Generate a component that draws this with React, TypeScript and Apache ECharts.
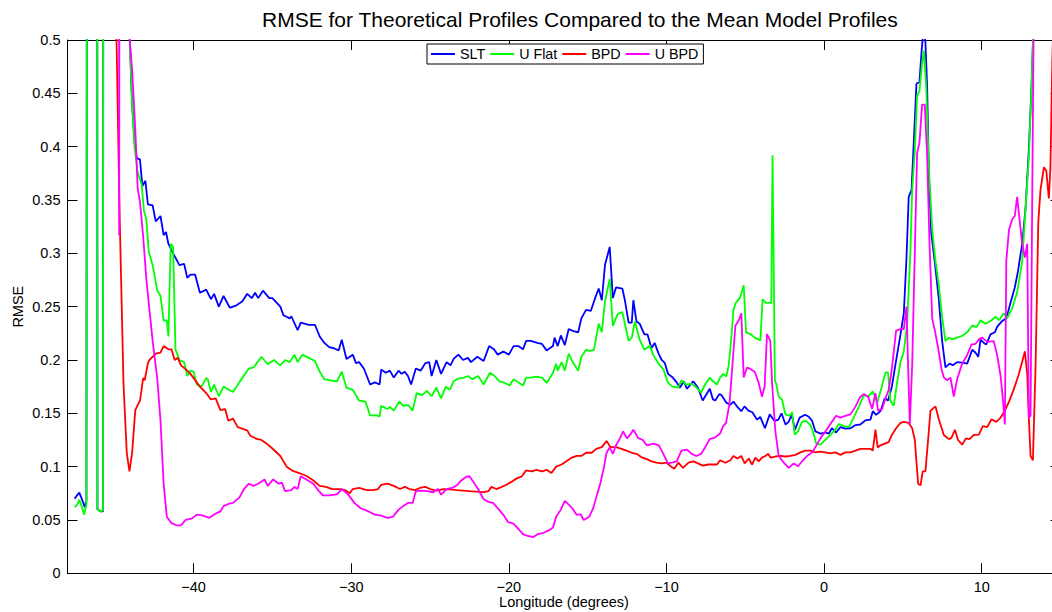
import React, { useEffect, useRef } from 'react';
import * as echarts from 'echarts';

const TITLE = 'RMSE for Theoretical Profiles Compared to the Mean Model Profiles';
const X_NAME = 'Longitude (degrees)';
const Y_NAME = 'RMSE';
const SERIES_NAMES = ['SLT', 'U Flat', 'BPD', 'U BPD'];
const SERIES_COLORS = ['#0000ff', '#00ff00', '#ff0000', '#ff00ff'];
const X_TICKS = [-40, -30, -20, -10, 0, 10];
const X_MIN = -48;
const X_MAX = 15;
const Y_MIN = 0;
const Y_MAX = 0.5;
const Y_STEP = 0.05;

// [longitude, RMSE]; values above 0.5 run off the top of the axes
const slt: [number, number][] = [
  [-47.55, 0.07], [-47.4, 0.073], [-47.25, 0.0756], [-47.1, 0.07], [-46.9, 0.062], [-46.8, 0.068],
  [-46.7, 2.0], [-46.14, 2.0], [-46.1, 0.06], [-45.9, 0.058], [-45.75, 0.058], [-45.68, 2.0],
  [-44.3, 2.0], [-44.1, 0.52], [-43.9, 0.44], [-43.75, 0.405], [-43.6, 0.389], [-43.4, 0.388],
  [-43.25, 0.363], [-43.06, 0.368], [-42.9, 0.346], [-42.6, 0.345], [-42.4, 0.33], [-42.1, 0.335],
  [-41.9, 0.317], [-41.75, 0.32], [-41.6, 0.309], [-41.3, 0.3], [-40.9, 0.289], [-40.6, 0.29],
  [-40.4, 0.277], [-40.2, 0.28], [-39.9, 0.28], [-39.6, 0.263], [-39.2, 0.266], [-38.9, 0.257],
  [-38.7, 0.262], [-38.4, 0.25], [-38.1, 0.26], [-37.7, 0.249], [-37.3, 0.251], [-36.9, 0.255],
  [-36.6, 0.262], [-36.3, 0.258], [-36.1, 0.263], [-35.9, 0.258], [-35.6, 0.265], [-35.2, 0.258],
  [-35.0, 0.258], [-34.5, 0.25], [-34.3, 0.242], [-33.9, 0.239], [-33.8, 0.241], [-33.4, 0.228],
  [-33.2, 0.235], [-32.7, 0.233], [-32.3, 0.233], [-32.0, 0.222], [-31.7, 0.216], [-31.4, 0.212],
  [-31.1, 0.211], [-30.8, 0.209], [-30.6, 0.219], [-30.3, 0.201], [-29.9, 0.205], [-29.7, 0.197],
  [-29.5, 0.198], [-29.2, 0.192], [-28.8, 0.177], [-28.5, 0.179], [-28.2, 0.177], [-28.1, 0.191],
  [-27.8, 0.188], [-27.55, 0.19], [-27.3, 0.1835], [-27.0, 0.19], [-26.8, 0.187], [-26.6, 0.189],
  [-26.4, 0.185], [-26.2, 0.177], [-25.9, 0.192], [-25.6, 0.19], [-25.3, 0.197], [-25.05, 0.198],
  [-24.9, 0.185], [-24.6, 0.2], [-24.3, 0.187], [-23.95, 0.198], [-23.7, 0.195], [-23.5, 0.201],
  [-23.2, 0.205], [-22.9, 0.2], [-22.6, 0.202], [-22.4, 0.198], [-22.0, 0.203], [-21.6, 0.199],
  [-21.25, 0.213], [-20.95, 0.21], [-20.7, 0.205], [-20.35, 0.208], [-20.0, 0.205], [-19.7, 0.213],
  [-19.4, 0.213], [-19.1, 0.21], [-18.9, 0.218], [-18.6, 0.218], [-18.2, 0.216], [-17.9, 0.215],
  [-17.6, 0.209], [-17.2, 0.213], [-17.1, 0.221], [-16.9, 0.213], [-16.7, 0.223], [-16.45, 0.214],
  [-16.2, 0.229], [-15.9, 0.227], [-15.6, 0.226], [-15.4, 0.239], [-15.1, 0.247], [-14.8, 0.246],
  [-14.55, 0.257], [-14.3, 0.267], [-14.1, 0.256], [-13.9, 0.289], [-13.6, 0.306], [-13.4, 0.258],
  [-13.2, 0.268], [-12.8, 0.267], [-12.65, 0.257], [-12.4, 0.235], [-12.2, 0.235], [-12.1, 0.256],
  [-11.9, 0.236], [-11.7, 0.234], [-11.4, 0.224], [-11.2, 0.224], [-10.95, 0.211], [-10.75, 0.216],
  [-10.5, 0.206], [-10.3, 0.2], [-10.1, 0.197], [-9.9, 0.187], [-9.6, 0.1835], [-9.35, 0.179],
  [-9.15, 0.174], [-8.9, 0.18], [-8.7, 0.173], [-8.3, 0.18], [-8.0, 0.174], [-7.7, 0.162],
  [-7.5, 0.167], [-7.25, 0.173], [-7.05, 0.163], [-6.9, 0.162], [-6.65, 0.168], [-6.5, 0.167],
  [-6.2, 0.16], [-5.95, 0.158], [-5.75, 0.161], [-5.5, 0.156], [-5.25, 0.152], [-5.05, 0.1565],
  [-4.8, 0.1525], [-4.55, 0.151], [-4.25, 0.144], [-4.05, 0.1467], [-3.75, 0.136], [-3.45, 0.149],
  [-3.15, 0.143], [-2.9, 0.144], [-2.7, 0.15], [-2.45, 0.1395], [-2.25, 0.142], [-2.05, 0.1486],
  [-1.85, 0.1346], [-1.55, 0.146], [-1.2, 0.1486], [-0.97, 0.1467], [-0.76, 0.143], [-0.55, 0.133],
  [-0.23, 0.131], [0.08, 0.132], [0.3, 0.131], [0.5, 0.136], [0.76, 0.132], [1.04, 0.137],
  [1.35, 0.1356], [1.67, 0.136], [2.0, 0.139], [2.3, 0.1395], [2.62, 0.1434], [2.94, 0.144],
  [3.09, 0.152], [3.3, 0.1486], [3.58, 0.152], [3.85, 0.164], [4.06, 0.162], [4.3, 0.175],
  [4.63, 0.2047], [4.85, 0.224], [5.06, 0.244], [5.23, 0.296], [5.37, 0.353], [5.55, 0.3595],
  [5.7, 0.4068], [5.86, 0.459], [6.05, 0.4606], [6.18, 0.488], [6.3, 0.51], [6.43, 0.498],
  [6.54, 0.456], [6.65, 0.374], [6.8, 0.319], [7.03, 0.291], [7.28, 0.257], [7.49, 0.218],
  [7.7, 0.193], [7.96, 0.1966], [8.17, 0.195], [8.44, 0.198], [8.76, 0.1975], [9.08, 0.1966],
  [9.4, 0.2096], [9.6, 0.207], [9.78, 0.203], [9.93, 0.219], [10.14, 0.216], [10.29, 0.2145],
  [10.56, 0.224], [10.84, 0.226], [10.98, 0.231], [11.3, 0.2366], [11.56, 0.239], [11.83, 0.2536],
  [12.1, 0.268], [12.3, 0.283], [12.57, 0.309], [12.78, 0.3416], [12.99, 0.397], [13.16, 0.456],
  [13.3, 0.52], [14.0, 1.0],
];

const uFlat: [number, number][] = [
  [-47.55, 0.062], [-47.4, 0.064], [-47.25, 0.069], [-47.1, 0.063], [-46.95, 0.055], [-46.8, 0.064],
  [-46.7, 2.0], [-46.14, 2.0], [-46.1, 0.06], [-45.9, 0.058], [-45.75, 0.059], [-45.68, 2.0],
  [-44.3, 2.0], [-44.1, 0.52], [-43.9, 0.44], [-43.75, 0.4], [-43.55, 0.376], [-43.3, 0.365],
  [-43.15, 0.34], [-43.0, 0.332], [-42.85, 0.302], [-42.6, 0.289], [-42.3, 0.265], [-42.1, 0.26],
  [-41.9, 0.237], [-41.7, 0.237], [-41.6, 0.222], [-41.45, 0.309], [-41.3, 0.306], [-41.15, 0.21],
  [-40.9, 0.2], [-40.6, 0.198], [-40.4, 0.185], [-40.2, 0.19], [-40.0, 0.189], [-39.8, 0.177],
  [-39.5, 0.175], [-39.2, 0.183], [-39.1, 0.182], [-38.9, 0.17], [-38.7, 0.177], [-38.4, 0.166],
  [-38.1, 0.175], [-37.5, 0.17], [-37.1, 0.179], [-36.5, 0.192], [-36.2, 0.193], [-36.0, 0.197],
  [-35.7, 0.203], [-35.3, 0.196], [-34.9, 0.2], [-34.5, 0.195], [-34.2, 0.2], [-33.9, 0.198],
  [-33.6, 0.205], [-33.4, 0.198], [-33.1, 0.205], [-32.7, 0.202], [-32.3, 0.199], [-32.0, 0.189],
  [-31.7, 0.182], [-31.4, 0.181], [-30.9, 0.18], [-30.6, 0.189], [-30.3, 0.174], [-29.9, 0.172],
  [-29.5, 0.162], [-29.1, 0.161], [-28.8, 0.148], [-28.4, 0.148], [-28.2, 0.147], [-28.1, 0.157],
  [-27.7, 0.154], [-27.55, 0.156], [-27.3, 0.1525], [-26.95, 0.161], [-26.7, 0.157], [-26.4, 0.158],
  [-26.1, 0.1525], [-25.85, 0.169], [-25.5, 0.167], [-25.2, 0.171], [-24.9, 0.166], [-24.6, 0.174],
  [-24.3, 0.164], [-24.0, 0.175], [-23.75, 0.172], [-23.5, 0.18], [-23.2, 0.1825], [-22.85, 0.1835],
  [-22.6, 0.185], [-22.3, 0.182], [-21.95, 0.185], [-21.6, 0.177], [-21.2, 0.188], [-20.9, 0.185],
  [-20.6, 0.18], [-20.25, 0.1785], [-19.95, 0.176], [-19.7, 0.182], [-19.4, 0.179], [-19.1, 0.176],
  [-18.9, 0.1835], [-18.6, 0.1835], [-18.25, 0.1845], [-17.9, 0.1835], [-17.6, 0.1785], [-17.2, 0.188],
  [-17.0, 0.1965], [-16.9, 0.19], [-16.65, 0.198], [-16.45, 0.19], [-16.2, 0.206], [-15.95, 0.198],
  [-15.6, 0.19], [-15.4, 0.203], [-15.1, 0.2095], [-14.85, 0.2085], [-14.6, 0.2095], [-14.3, 0.234],
  [-14.1, 0.226], [-13.9, 0.255], [-13.6, 0.276], [-13.4, 0.232], [-13.1, 0.243], [-12.8, 0.245],
  [-12.4, 0.218], [-12.2, 0.221], [-12.0, 0.236], [-11.7, 0.219], [-11.4, 0.2095], [-11.05, 0.2135],
  [-10.85, 0.205], [-10.5, 0.1965], [-10.2, 0.1915], [-9.9, 0.1785], [-9.6, 0.175], [-9.25, 0.174],
  [-9.05, 0.181], [-8.75, 0.177], [-8.4, 0.1775], [-8.15, 0.175], [-7.8, 0.1695], [-7.55, 0.177],
  [-7.25, 0.1835], [-7.05, 0.18], [-6.8, 0.177], [-6.6, 0.1835], [-6.4, 0.187], [-6.2, 0.1845],
  [-6.05, 0.195], [-5.9, 0.2177], [-5.75, 0.247], [-5.6, 0.2536], [-5.33, 0.2585], [-5.1, 0.27],
  [-4.95, 0.2259], [-4.68, 0.2243], [-4.4, 0.221], [-4.04, 0.2184], [-3.9, 0.2568], [-3.68, 0.2536],
  [-3.35, 0.2536], [-3.27, 0.392], [-3.12, 0.18], [-3.05, 0.1786], [-2.88, 0.1656], [-2.67, 0.163],
  [-2.45, 0.149], [-2.2, 0.1477], [-2.03, 0.151], [-1.86, 0.13], [-1.65, 0.133], [-1.4, 0.142],
  [-1.14, 0.143], [-0.87, 0.139], [-0.66, 0.131], [-0.5, 0.1216], [-0.23, 0.1206], [0.08, 0.125],
  [0.4, 0.1297], [0.72, 0.1346], [0.93, 0.14], [1.25, 0.138], [1.57, 0.137], [1.88, 0.146],
  [2.2, 0.156], [2.52, 0.167], [2.8, 0.1656], [3.09, 0.1705], [3.37, 0.16], [3.64, 0.1737],
  [3.9, 0.1884], [4.06, 0.1884], [4.2, 0.162], [4.42, 0.157], [4.63, 0.1786], [4.85, 0.198],
  [5.06, 0.208], [5.27, 0.234], [5.48, 0.3025], [5.59, 0.3595], [5.76, 0.397], [5.9, 0.4475],
  [6.05, 0.452], [6.22, 0.478], [6.33, 0.49], [6.48, 0.456], [6.65, 0.3807], [6.86, 0.322],
  [7.07, 0.2927], [7.28, 0.27], [7.49, 0.2405], [7.7, 0.2177], [7.92, 0.221], [8.13, 0.2193],
  [8.44, 0.221], [8.76, 0.2226], [9.08, 0.2259], [9.4, 0.2324], [9.67, 0.2308], [9.93, 0.2373],
  [10.24, 0.234], [10.56, 0.2366], [10.88, 0.2405], [11.1, 0.2373], [11.4, 0.2438], [11.62, 0.239],
  [11.94, 0.2487], [12.25, 0.2634], [12.57, 0.2927], [12.78, 0.3416], [12.99, 0.39], [13.16, 0.456],
  [13.3, 0.52], [14.0, 1.0],
];

const bpd: [number, number][] = [
  [-44.95, 0.55], [-44.7, 0.3416], [-44.45, 0.1786], [-44.24, 0.113], [-44.07, 0.0955], [-43.9, 0.113],
  [-43.7, 0.153], [-43.5, 0.159], [-43.4, 0.162], [-43.2, 0.183], [-43.1, 0.181], [-42.9, 0.197],
  [-42.8, 0.2], [-42.4, 0.206], [-42.1, 0.207], [-41.9, 0.213], [-41.6, 0.21], [-41.4, 0.21],
  [-41.2, 0.2], [-41.0, 0.202], [-40.8, 0.195], [-40.4, 0.19], [-40.2, 0.187], [-40.0, 0.183],
  [-39.6, 0.175], [-39.2, 0.169], [-38.9, 0.163], [-38.6, 0.164], [-38.3, 0.153], [-38.0, 0.154],
  [-37.8, 0.143], [-37.5, 0.145], [-37.2, 0.137], [-36.6, 0.134], [-36.4, 0.129], [-36.0, 0.126],
  [-35.7, 0.125], [-35.4, 0.122], [-35.0, 0.117], [-34.5, 0.11], [-34.1, 0.1], [-33.7, 0.096],
  [-33.3, 0.094], [-32.8, 0.091], [-32.4, 0.087], [-32.0, 0.082], [-31.6, 0.081], [-31.2, 0.079],
  [-30.7, 0.079], [-30.4, 0.078], [-30.1, 0.075], [-29.9, 0.079], [-29.5, 0.08], [-29.0, 0.078],
  [-28.6, 0.078], [-28.3, 0.079], [-28.1, 0.083], [-27.7, 0.084], [-27.3, 0.082], [-26.9, 0.079],
  [-26.6, 0.081], [-26.3, 0.079], [-25.95, 0.078], [-25.65, 0.08], [-25.3, 0.081], [-25.0, 0.079],
  [-24.6, 0.0776], [-24.15, 0.079], [-23.75, 0.0786], [-23.3, 0.078], [-22.9, 0.0776], [-22.5, 0.077],
  [-22.05, 0.0766], [-21.6, 0.076], [-21.3, 0.077], [-21.1, 0.081], [-20.8, 0.079], [-20.45, 0.081],
  [-20.15, 0.083], [-19.85, 0.0857], [-19.5, 0.089], [-19.2, 0.0906], [-18.9, 0.0965], [-18.55, 0.0955],
  [-18.25, 0.097], [-17.9, 0.0955], [-17.6, 0.097], [-17.3, 0.094], [-17.0, 0.1], [-16.65, 0.102],
  [-16.35, 0.105], [-16.0, 0.1085], [-15.7, 0.11], [-15.4, 0.11], [-15.1, 0.113], [-14.75, 0.113],
  [-14.45, 0.1167], [-14.1, 0.1183], [-13.8, 0.124], [-13.55, 0.1183], [-13.2, 0.1183], [-12.85, 0.1167],
  [-12.55, 0.115], [-12.2, 0.113], [-11.9, 0.112], [-11.6, 0.109], [-11.25, 0.107], [-10.95, 0.105],
  [-10.65, 0.1037], [-10.3, 0.103], [-10.0, 0.1037], [-9.7, 0.1], [-9.5, 0.098], [-9.25, 0.1037],
  [-8.95, 0.0988], [-8.6, 0.1037], [-8.3, 0.105], [-8.0, 0.103], [-7.7, 0.101], [-7.35, 0.102],
  [-7.05, 0.102], [-6.8, 0.102], [-6.6, 0.106], [-6.26, 0.1037], [-5.95, 0.106], [-5.75, 0.11],
  [-5.5, 0.1076], [-5.25, 0.11], [-5.04, 0.103], [-4.78, 0.1076], [-4.57, 0.102], [-4.36, 0.1085],
  [-4.15, 0.105], [-3.94, 0.1085], [-3.72, 0.11], [-3.55, 0.112], [-3.4, 0.1085], [-3.09, 0.1095],
  [-2.77, 0.11], [-2.45, 0.1095], [-2.14, 0.11], [-1.82, 0.111], [-1.5, 0.1134], [-1.19, 0.115],
  [-0.87, 0.115], [-0.55, 0.1134], [-0.23, 0.114], [0.08, 0.1134], [0.4, 0.1125], [0.72, 0.1134],
  [1.04, 0.111], [1.35, 0.1134], [1.67, 0.1134], [2.0, 0.115], [2.3, 0.1167], [2.62, 0.1167],
  [2.94, 0.1167], [3.09, 0.115], [3.26, 0.1346], [3.4, 0.118], [3.58, 0.12], [3.85, 0.1216],
  [4.1, 0.123], [4.3, 0.1297], [4.57, 0.136], [4.85, 0.141], [5.06, 0.142], [5.37, 0.141],
  [5.59, 0.136], [5.76, 0.125], [5.84, 0.1085], [5.97, 0.084], [6.12, 0.0825], [6.26, 0.0955],
  [6.43, 0.0955], [6.6, 0.125], [6.75, 0.1525], [7.07, 0.1565], [7.28, 0.1444], [7.6, 0.1297],
  [7.92, 0.1258], [8.08, 0.127], [8.3, 0.1346], [8.5, 0.125], [8.76, 0.1206], [9.0, 0.1265],
  [9.23, 0.1258], [9.5, 0.1297], [9.82, 0.13], [10.07, 0.1379], [10.35, 0.137], [10.62, 0.1444],
  [10.92, 0.142], [11.2, 0.146], [11.47, 0.1525], [11.73, 0.1607], [12.04, 0.1727], [12.36, 0.1868],
  [12.74, 0.208], [12.89, 0.1868], [12.99, 0.146], [13.1, 0.11], [13.25, 0.106], [13.42, 0.195],
  [13.59, 0.3285], [13.73, 0.3595], [13.95, 0.3807], [14.1, 0.3774], [14.26, 0.3514], [14.36, 0.38],
  [14.48, 0.48], [14.7, 0.6],
];

const uBpd: [number, number][] = [
  [-44.8, 2.0], [-44.72, 0.317], [-44.66, 2.0], [-44.2, 2.0], [-44.05, 0.5], [-43.9, 0.472],
  [-43.7, 0.417], [-43.55, 0.361], [-43.4, 0.348], [-43.2, 0.316], [-43.0, 0.276], [-42.8, 0.247],
  [-42.6, 0.218], [-42.3, 0.182], [-42.1, 0.143], [-41.9, 0.084], [-41.7, 0.053], [-41.4, 0.047],
  [-41.1, 0.045], [-40.8, 0.045], [-40.5, 0.05], [-40.1, 0.0515], [-39.8, 0.055], [-39.4, 0.054],
  [-39.0, 0.052], [-38.6, 0.056], [-38.3, 0.058], [-38.1, 0.063], [-37.8, 0.065], [-37.5, 0.066],
  [-37.1, 0.071], [-36.8, 0.079], [-36.5, 0.084], [-36.2, 0.082], [-35.9, 0.084], [-35.5, 0.088],
  [-35.3, 0.082], [-34.95, 0.088], [-34.6, 0.084], [-34.4, 0.085], [-34.2, 0.077], [-33.8, 0.078],
  [-33.6, 0.081], [-33.4, 0.079], [-33.2, 0.091], [-32.85, 0.088], [-32.4, 0.084], [-32.1, 0.078],
  [-31.8, 0.073], [-31.4, 0.073], [-30.9, 0.074], [-30.6, 0.079], [-30.2, 0.074], [-29.8, 0.066],
  [-29.4, 0.061], [-28.9, 0.058], [-28.5, 0.055], [-28.1, 0.054], [-27.7, 0.052], [-27.35, 0.053],
  [-27.0, 0.0597], [-26.7, 0.063], [-26.4, 0.066], [-26.1, 0.066], [-25.9, 0.077], [-25.55, 0.0776],
  [-25.2, 0.077], [-24.8, 0.076], [-24.5, 0.079], [-24.3, 0.0737], [-23.95, 0.079], [-23.6, 0.08],
  [-23.3, 0.0825], [-23.0, 0.0873], [-22.7, 0.0906], [-22.5, 0.091], [-22.25, 0.0857], [-21.95, 0.079],
  [-21.6, 0.0694], [-21.3, 0.067], [-21.0, 0.066], [-20.7, 0.061], [-20.35, 0.0548], [-20.05, 0.048],
  [-19.7, 0.0466], [-19.4, 0.0417], [-19.1, 0.0368], [-18.8, 0.035], [-18.45, 0.034], [-18.15, 0.0368],
  [-17.8, 0.038], [-17.5, 0.04], [-17.2, 0.043], [-17.0, 0.053], [-16.7, 0.0597], [-16.45, 0.068],
  [-16.25, 0.065], [-15.95, 0.0606], [-15.7, 0.0548], [-15.45, 0.0554], [-15.25, 0.05], [-14.9, 0.053],
  [-14.65, 0.061], [-14.4, 0.074], [-14.2, 0.084], [-14.0, 0.097], [-13.8, 0.113], [-13.6, 0.118],
  [-13.4, 0.112], [-13.2, 0.12], [-12.95, 0.1265], [-12.75, 0.133], [-12.5, 0.1265], [-12.3, 0.13],
  [-12.1, 0.1346], [-11.8, 0.127], [-11.5, 0.125], [-11.25, 0.12], [-11.05, 0.1206], [-10.8, 0.1216],
  [-10.5, 0.12], [-10.3, 0.115], [-10.1, 0.109], [-9.9, 0.103], [-9.6, 0.104], [-9.35, 0.105],
  [-9.05, 0.115], [-8.7, 0.116], [-8.4, 0.112], [-8.1, 0.11], [-7.8, 0.112], [-7.55, 0.118],
  [-7.25, 0.126], [-6.95, 0.127], [-6.6, 0.131], [-6.4, 0.138], [-6.22, 0.141], [-6.0, 0.159],
  [-5.8, 0.198], [-5.63, 0.232], [-5.42, 0.237], [-5.25, 0.2438], [-5.1, 0.1835], [-4.89, 0.193],
  [-4.68, 0.1916], [-4.4, 0.189], [-4.15, 0.1786], [-3.94, 0.1656], [-3.77, 0.1754], [-3.62, 0.2243],
  [-3.41, 0.2177], [-3.3, 0.1786], [-3.09, 0.133], [-2.88, 0.11], [-2.56, 0.1037], [-2.24, 0.0988],
  [-1.93, 0.103], [-1.65, 0.1004], [-1.4, 0.105], [-1.08, 0.11], [-0.76, 0.1134], [-0.55, 0.1183],
  [-0.23, 0.1265], [0.08, 0.133], [0.4, 0.14], [0.76, 0.1477], [1.04, 0.146], [1.35, 0.1477],
  [1.67, 0.149], [2.0, 0.1565], [2.3, 0.1656], [2.52, 0.168], [2.8, 0.1656], [3.05, 0.154],
  [3.26, 0.169], [3.43, 0.1525], [3.68, 0.154], [3.94, 0.166], [4.1, 0.172], [4.3, 0.1916],
  [4.57, 0.2275], [4.85, 0.229], [5.06, 0.229], [5.23, 0.25], [5.33, 0.195], [5.44, 0.1395],
  [5.59, 0.195], [5.76, 0.3025], [5.9, 0.394], [6.05, 0.4036], [6.22, 0.4394], [6.39, 0.4394],
  [6.54, 0.3905], [6.69, 0.309], [6.86, 0.239], [7.03, 0.2275], [7.24, 0.211], [7.45, 0.1916],
  [7.6, 0.1835], [7.81, 0.181], [8.02, 0.1835], [8.23, 0.1656], [8.44, 0.182], [8.76, 0.1966],
  [9.08, 0.2047], [9.35, 0.2145], [9.6, 0.215], [9.82, 0.2193], [10.03, 0.221], [10.35, 0.217],
  [10.77, 0.2177], [10.98, 0.2047], [11.2, 0.185], [11.35, 0.1623], [11.47, 0.1395], [11.56, 0.2927],
  [11.73, 0.322], [11.94, 0.332], [12.1, 0.335], [12.25, 0.353], [12.4, 0.332], [12.57, 0.309],
  [12.74, 0.296], [12.89, 0.309], [12.99, 0.146], [13.1, 0.1477], [13.2, 0.3416], [13.3, 0.52],
  [14.0, 1.0],
];

const SERIES_DATA = [slt, uFlat, bpd, uBpd];

const FONT = '"Liberation Sans", Arial, Helvetica, sans-serif';

const fmtX = (v: number) => (v < 0 ? '\u2212' + Math.abs(v) : String(v));
const fmtY = (v: number) => String(parseFloat(v.toFixed(2)));

function buildOption() {
  const axisLine = { show: true, onZero: false, lineStyle: { color: '#000', width: 1 } };
  const tickStyle = { color: '#000', width: 1 };
  const labelStyle = { color: '#000', fontSize: 14.5, fontFamily: FONT };
  const nameStyle = { color: '#000', fontSize: 14.5, fontFamily: FONT };
  return {
    animation: false,
    backgroundColor: '#fff',
    textStyle: { fontFamily: FONT },
    title: {
      text: TITLE,
      left: 262,
      top: 9,
      padding: 0,
      textAlign: 'left',
      textStyle: { fontSize: 21, fontWeight: 'normal', color: '#000', fontFamily: FONT },
    },
    legend: {
      data: SERIES_NAMES,
      left: 427,
      top: 44,
      orient: 'horizontal',
      icon: 'rect',
      itemWidth: 24,
      itemHeight: 2,
      itemGap: 5,
      padding: [3, 5, 3, 4],
      borderColor: '#000',
      borderWidth: 1,
      borderRadius: 0,
      backgroundColor: '#fff',
      selectedMode: false,
      textStyle: { color: '#000', fontSize: 14.3, fontFamily: FONT },
    },
    grid: {
      left: 67.5,
      top: 40,
      width: 993,
      height: 533.3,
      show: false,
      containLabel: false,
      outerBoundsMode: 'none',
    },
    xAxis: [
      {
        type: 'value',
        min: X_MIN,
        max: X_MAX,
        position: 'bottom',
        axisLine,
        splitLine: { show: false },
        axisTick: { show: true, inside: true, length: 10, customValues: X_TICKS, lineStyle: tickStyle },
        axisLabel: { ...labelStyle, customValues: X_TICKS, formatter: fmtX, margin: 6 },
        name: X_NAME,
        nameLocation: 'middle',
        nameGap: 21.5,
        nameMoveOverlap: false,
        nameTextStyle: nameStyle,
      },
      {
        type: 'value',
        min: X_MIN,
        max: X_MAX,
        position: 'top',
        axisLine,
        splitLine: { show: false },
        axisTick: { show: true, inside: true, length: 10, customValues: X_TICKS, lineStyle: tickStyle },
        axisLabel: { show: false },
      },
    ],
    yAxis: [
      {
        type: 'value',
        min: Y_MIN,
        max: Y_MAX,
        interval: Y_STEP,
        position: 'left',
        axisLine,
        splitLine: { show: false },
        axisTick: { show: true, inside: true, length: 10, lineStyle: tickStyle },
        axisLabel: { ...labelStyle, formatter: fmtY, margin: 7 },
        name: Y_NAME,
        nameLocation: 'middle',
        nameGap: 42,
        nameRotate: 90,
        nameMoveOverlap: false,
        nameTextStyle: nameStyle,
      },
      {
        type: 'value',
        min: Y_MIN,
        max: Y_MAX,
        interval: Y_STEP,
        position: 'right',
        axisLine,
        splitLine: { show: false },
        axisTick: { show: true, inside: true, length: 10, lineStyle: tickStyle },
        axisLabel: { show: false },
      },
    ],
    series: SERIES_NAMES.map((name, i) => ({
      name,
      type: 'line',
      xAxisIndex: 0,
      yAxisIndex: 0,
      data: SERIES_DATA[i],
      color: SERIES_COLORS[i],
      showSymbol: false,
      symbol: 'none',
      clip: true,
      silent: true,
      lineStyle: { color: SERIES_COLORS[i], width: 1.8 },
      emphasis: { disabled: true },
    })),
  };
}

export default function App() {
  const ref = useRef<HTMLDivElement>(null);
  useEffect(() => {
    if (!ref.current) return;
    const chart = echarts.init(ref.current, undefined, { renderer: 'svg' });
    chart.setOption(buildOption() as any);
    return () => chart.dispose();
  }, []);
  return (
    <div
      style={{
        position: 'absolute',
        left: 0,
        top: 0,
        width: 1052,
        height: 612,
        overflow: 'hidden',
        background: '#fff',
      }}
    >
      <div ref={ref} style={{ width: 1080, height: 612 }} />
    </div>
  );
}
